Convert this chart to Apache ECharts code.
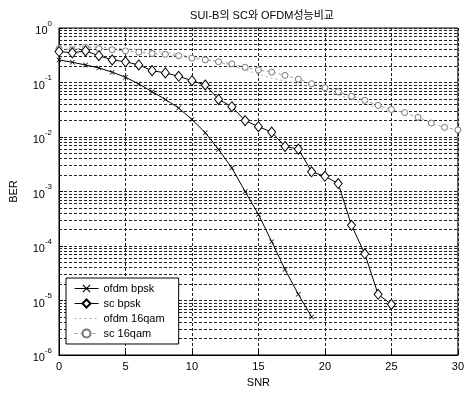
<!DOCTYPE html>
<html>
<head>
<meta charset="utf-8">
<script src="https://cdn.jsdelivr.net/npm/echarts@6/dist/echarts.min.js"></script>
<style>
  html, body { margin: 0; padding: 0; background: #fff; }
  #chart { width: 467px; height: 393px; }
</style>
</head>
<body>
<div id="chart"></div>
<script>
const snrOfdmBpsk = [0, 1, 2, 3, 4, 5, 6, 7, 8, 9, 10, 11, 12, 13, 14, 15, 16, 17, 18, 19];
const ofdmBpsk = [0.26, 0.235, 0.21, 0.185, 0.155, 0.125, 0.094, 0.068, 0.049, 0.034,
  0.021, 0.012, 0.0059, 0.0027, 0.0010, 0.00038, 0.00012, 0.000037, 0.000013, 0.000005];

const snrScBpsk = [0, 1, 2, 3, 4, 5, 6, 7, 8, 9, 10, 11, 12, 13, 14, 15, 16, 17, 18, 19, 20, 21, 22, 23, 24, 25];
const scBpsk = [0.37, 0.35, 0.38, 0.31, 0.26, 0.24, 0.21, 0.165, 0.15, 0.13,
  0.108, 0.090, 0.049, 0.036, 0.020, 0.0155, 0.0123, 0.0067, 0.006, 0.0023,
  0.0019, 0.0014, 0.00024, 0.000072, 0.000013, 0.0000085];

const snrOfdm16 = [0, 2, 4, 6, 8, 10, 12, 14, 16, 18, 20, 22, 24, 25];
const ofdm16qam = [0.48, 0.46, 0.43, 0.40, 0.36, 0.30, 0.24, 0.17, 0.12, 0.095, 0.07, 0.05, 0.034, 0.029];

const snrSc16 = [0, 1, 2, 3, 4, 5, 6, 7, 8, 9, 10, 11, 12, 13, 14, 15, 16, 17, 18, 19, 20,
  21, 22, 23, 24, 25, 26, 27, 28, 29, 30];
const sc16qam = [0.42, 0.40, 0.44, 0.42, 0.40, 0.38, 0.36, 0.34, 0.33, 0.31, 0.28,
  0.26, 0.24, 0.22, 0.19, 0.17, 0.155, 0.135, 0.115, 0.095, 0.08,
  0.068, 0.056, 0.047, 0.038, 0.032, 0.028, 0.023, 0.018, 0.015, 0.0135];

const xRange = [0, 30];
const yDecades = [1e-6, 1e-5, 1e-4, 1e-3, 1e-2, 1e-1, 1];

// minor grid values 2..9 in each decade
const minorGrid = [];
for (let d = 0; d < yDecades.length - 1; d++) {
  for (let m = 2; m <= 9; m++) minorGrid.push(m * yDecades[d]);
}

function pairs(xs, ys) {
  return xs.map(function (x, i) { return [x, ys[i]]; });
}

const font = "'Liberation Sans', Arial, 'Noto Sans CJK KR', sans-serif";
const gridLine = { color: '#222', width: 1, type: [3, 2] };

const chart = echarts.init(document.getElementById('chart'));

const option = {
  animation: false,
  title: {
    text: 'SUI-B의 SC와 OFDM성능비교',
    left: 257,
    textAlign: 'center',
    top: 5,
    textStyle: { fontFamily: font, fontSize: 11, fontWeight: 'normal', color: '#000' }
  },
  grid: {
    left: 52, right: 6, top: 28, bottom: 37,
    show: true, borderColor: '#000', borderWidth: 1, backgroundColor: 'transparent'
  },
  legend: {
    orient: 'vertical',
    left: 66, top: 278,
    z: 20,
    data: [
      'ofdm bpsk',
      'sc bpsk',
      { name: 'ofdm 16qam', itemStyle: { color: 'transparent', borderColor: 'transparent' } },
      'sc 16qam'
    ],
    backgroundColor: '#fff',
    borderColor: '#000', borderWidth: 1,
    padding: [5, 14, 5, 8],
    itemGap: 4, itemWidth: 24, itemHeight: 10,
    lineStyle: { width: 1 },
    textStyle: { fontFamily: font, fontSize: 11, color: '#000' }
  },
  xAxis: {
    type: 'value',
    min: xRange[0], max: xRange[1], interval: 5,
    name: 'SNR', nameLocation: 'middle', nameGap: 22,
    nameTextStyle: { fontFamily: font, fontSize: 11, color: '#000' },
    axisLine: { lineStyle: { color: '#000' } },
    axisTick: { inside: true, length: 4, lineStyle: { color: '#000' } },
    axisLabel: { fontFamily: font, fontSize: 11, color: '#000', margin: 6 },
    splitLine: { show: true, lineStyle: gridLine }
  },
  yAxis: {
    type: 'log',
    logBase: 10,
    min: 1e-6, max: 1,
    name: 'BER', nameLocation: 'middle', nameGap: 40,
    nameTextStyle: { fontFamily: font, fontSize: 11, color: '#000' },
    axisLine: { show: true, lineStyle: { color: '#000' } },
    axisTick: { inside: true, length: 4, lineStyle: { color: '#000' } },
    axisLabel: {
      fontFamily: font, color: '#000', margin: 7,
      formatter: function (v) {
        return '{b|10}{s|' + Math.round(Math.log10(v)) + '}';
      },
      rich: {
        b: { fontFamily: font, fontSize: 11, color: '#000', padding: [6, 0, 0, 0] },
        s: { fontFamily: font, fontSize: 8, color: '#000', verticalAlign: 'top' }
      }
    },
    splitLine: { show: true, lineStyle: gridLine }
  },
  series: [
    {
      name: 'minor',
      type: 'line',
      data: [],
      z: 1,
      silent: true,
      markLine: {
        silent: true,
        z: 1,
        symbol: ['none', 'none'],
        label: { show: false },
        lineStyle: gridLine,
        data: minorGrid.map(function (v) {
          return [{ coord: [xRange[0], v] }, { coord: [xRange[1], v] }];
        })
      }
    },
    {
      name: 'ofdm bpsk',
      type: 'line',
      z: 3,
      data: pairs(snrOfdmBpsk, ofdmBpsk),
      symbol: 'path://M0,1L1,0L5,4L9,0L10,1L6,5L10,9L9,10L5,6L1,10L0,9L4,5Z',
      symbolSize: 5,
      itemStyle: { color: '#000' },
      lineStyle: { color: '#000', width: 1 }
    },
    {
      name: 'sc bpsk',
      type: 'line',
      z: 4,
      data: pairs(snrScBpsk, scBpsk),
      symbol: 'diamond',
      symbolSize: [8, 10],
      itemStyle: { color: '#fff', borderColor: '#000', borderWidth: 1 },
      lineStyle: { color: '#000', width: 1 }
    },
    {
      name: 'ofdm 16qam',
      type: 'line',
      z: 2,
      data: pairs(snrOfdm16, ofdm16qam),
      symbol: 'none',
      itemStyle: { color: '#aaa' },
      lineStyle: { color: '#aaa', width: 1, type: [2, 3] }
    },
    {
      name: 'sc 16qam',
      type: 'line',
      z: 3,
      data: pairs(snrSc16, sc16qam),
      symbol: 'circle',
      symbolSize: 6,
      itemStyle: { color: '#fff', borderColor: '#777', borderWidth: 1 },
      lineStyle: { color: '#999', width: 1, type: [3, 3] }
    }
  ]
};

chart.setOption(option);
</script>
</body>
</html>
